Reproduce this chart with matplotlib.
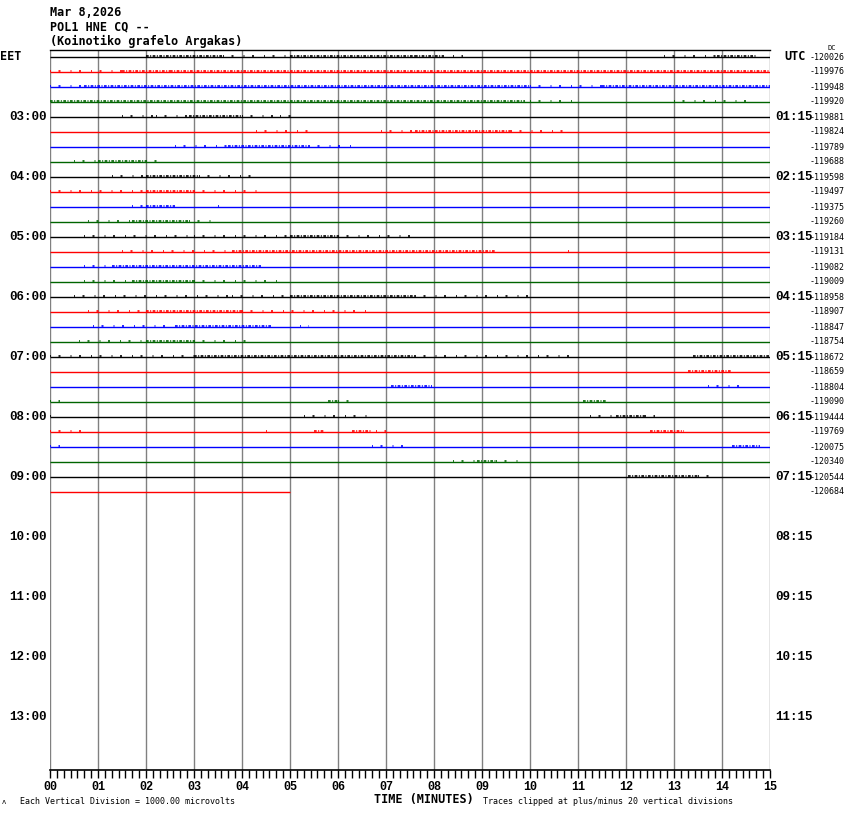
import matplotlib.pyplot as plt

colors = ['black', 'red', 'blue', '#006400']
row_dc = [-120026, -119976, -119948, -119920, -119881, -119824, -119789, -119688,
          -119598, -119497, -119375, -119260, -119184, -119131, -119082, -119009,
          -118958, -118907, -118847, -118754, -118672, -118659, -118804, -119090,
          -119444, -119769, -120075, -120340, -120544, -120684]
n_rows = 48
last_row_end = 5.0  # minutes recorded in the last (partial) line
eet_labels = ['03:00', '04:00', '05:00', '06:00', '07:00', '08:00',
              '09:00', '10:00', '11:00', '12:00', '13:00']
utc_labels = ['01:15', '02:15', '03:15', '04:15', '05:15', '06:15',
              '07:15', '08:15', '09:15', '10:15', '11:15']
minute_labels = ['00', '01', '02', '03', '04', '05', '06', '07',
                 '08', '09', '10', '11', '12', '13', '14', '15']

# noisy stretches per line: (start minute, end minute, level 1=sparse 2=dense)
activity = [
    [(2.0, 3.6, 2), (3.6, 5.0, 1), (5.0, 7.6, 2), (7.6, 8.2, 2), (8.4, 8.6, 1), (12.8, 13.9, 1), (13.9, 14.7, 2)],
    [(0.0, 1.5, 1), (1.5, 2.5, 2), (2.5, 15.0, 2)],
    [(0.0, 0.7, 1), (0.7, 10.0, 2), (10.0, 11.5, 1), (11.5, 15.0, 2)],
    [(0.0, 9.9, 2), (10.0, 11.0, 1), (13.0, 14.6, 1)],
    [(1.5, 2.2, 1), (2.2, 2.9, 1), (2.9, 4.0, 2), (4.0, 4.8, 1), (4.8, 5.2, 1)],
    [(4.3, 5.4, 1), (6.9, 7.6, 1), (7.6, 9.6, 2), (9.6, 10.8, 1)],
    [(2.6, 3.7, 1), (3.7, 5.4, 2), (5.4, 6.3, 1)],
    [(0.5, 1.0, 1), (1.0, 2.0, 2), (2.0, 2.3, 1)],
    [(1.3, 2.0, 1), (2.0, 3.1, 2), (3.1, 4.3, 1)],
    [(0.0, 2.0, 1), (2.0, 3.0, 2), (3.0, 4.4, 1)],
    [(1.7, 2.0, 1), (2.0, 2.6, 2), (3.5, 3.6, 1)],
    [(0.8, 1.7, 1), (1.7, 2.9, 2), (2.9, 3.4, 1)],
    [(0.7, 3.0, 1), (3.0, 5.0, 1), (5.0, 6.0, 2), (6.0, 7.6, 1)],
    [(1.5, 3.8, 1), (3.8, 9.3, 2), (10.8, 10.9, 1)],
    [(0.7, 1.3, 1), (1.3, 4.4, 2)],
    [(0.7, 1.7, 1), (1.7, 3.0, 2), (3.0, 4.8, 1)],
    [(0.5, 3.8, 1), (3.8, 5.0, 1), (5.0, 7.6, 2), (7.6, 10.0, 1)],
    [(0.8, 2.0, 1), (2.0, 4.0, 2), (4.0, 6.6, 1)],
    [(0.9, 2.6, 1), (2.6, 4.6, 2), (5.2, 5.4, 1)],
    [(0.6, 2.0, 1), (2.0, 3.0, 2), (3.0, 4.2, 1)],
    [(0.0, 3.0, 1), (3.0, 7.6, 2), (7.6, 10.9, 1), (13.4, 15.0, 2)],
    [(13.3, 14.2, 2)],
    [(7.1, 7.95, 2), (13.7, 14.4, 1)],
    [(0.0, 0.2, 1), (5.8, 6.0, 2), (6.0, 6.3, 1), (11.1, 11.6, 2)],
    [(0.0, 0.1, 1), (5.3, 6.7, 1), (11.25, 11.8, 1), (11.8, 12.4, 2), (12.4, 12.6, 1)],
    [(0.0, 0.8, 1), (4.5, 4.6, 1), (5.5, 5.7, 2), (6.3, 6.7, 2), (6.8, 7.0, 1), (12.5, 13.2, 2)],
    [(0.0, 0.2, 1), (6.7, 7.5, 1), (14.2, 14.8, 2)],
    [(8.4, 8.9, 1), (8.9, 9.3, 2), (9.3, 9.9, 1)],
    [(12.05, 13.5, 2), (13.5, 13.8, 1)],
    [],
]

W, H = 850, 814
fig = plt.figure(figsize=(W / 100, H / 100), dpi=100)
ax = fig.add_axes([50 / W, 1 - 770 / H, 720 / W, 720 / H])
ax.set_xlim(0, 15)
ax.set_ylim((770 - 57) / 15, (50 - 57) / 15)

mono = 'DejaVu Sans Mono'
serif_b = 'Liberation Mono'

# minute grid
for m in range(16):
    ax.axvline(m, color='#808080', lw=1.0, zorder=1)

# traces
for i, dc in enumerate(row_dc):
    c = colors[i % 4]
    end = last_row_end if i == len(row_dc) - 1 else 15
    ax.hlines(i, 0, end, color=c, lw=1.0, zorder=3)
    for (s, e, lev) in activity[i]:
        if lev == 2:
            ax.plot([s, e], [i - 0.06, i - 0.06], color=c, lw=1.2,
                    dashes=(1.6, 0.9, 0.6, 0.9), solid_capstyle='butt', zorder=3)
        else:
            ax.plot([s, e], [i - 0.06, i - 0.06], color=c, lw=1.2,
                    dashes=(0.6, 4.5, 1.2, 6.0), solid_capstyle='butt', zorder=3)
    ax.text(15.83, i, str(dc), fontsize=6, family=mono, va='center', ha='left',
            clip_on=False)

# hour labels
for k, (le, ri) in enumerate(zip(eet_labels, utc_labels)):
    r = 4 * (k + 1)
    ax.text(-0.06, r, le, fontsize=9, family=serif_b, weight='bold',
            ha='right', va='center', clip_on=False)
    ax.text(15.1, r, ri, fontsize=9, family=serif_b, weight='bold',
            ha='left', va='center', clip_on=False)
ax.text(-1.04, 0, 'EET', fontsize=8.5, family=mono, weight='bold',
        ha='left', va='center', clip_on=False)
ax.text(15.3, 0, 'UTC', fontsize=8.5, family=mono, weight='bold',
        ha='left', va='center', clip_on=False)
ax.text(16.2, -0.62, 'DC', fontsize=5, family=mono,
        ha='left', va='center', clip_on=False)

# frame and axis
for side in ['left', 'right']:
    ax.spines[side].set_visible(False)
ax.spines['top'].set_color('black')
ax.spines['top'].set_linewidth(1.0)
ax.spines['bottom'].set_linewidth(1.2)
ax.set_yticks([])
ax.set_xticks(range(16))
ax.set_xticklabels(minute_labels, fontsize=8.5, family=serif_b, weight='bold')
ax.set_xticks([m / 7 for m in range(15 * 7 + 1)], minor=True)
ax.tick_params(axis='x', which='both', direction='out', length=6, width=1.0,
               pad=2)

# header and footer text
fig.text(50 / W, 1 - 12 / H, 'Mar 8,2026', fontsize=8.5, family=mono,
         weight='bold', va='center')
fig.text(50 / W, 1 - 27 / H, 'POL1 HNE CQ --', fontsize=8.5, family=mono,
         weight='bold', va='center')
fig.text(50 / W, 1 - 41 / H, '(Koinotiko grafelo Argakas)', fontsize=8.5,
         family=mono, weight='bold', va='center')
fig.text(374 / W, 1 - 799 / H, 'TIME (MINUTES)', fontsize=8.5, family=mono,
         weight='bold', va='center')
fig.text(20 / W, 1 - 801 / H, 'Each Vertical Division = 1000.00 microvolts',
         fontsize=6, family=mono, va='center')
fig.text(483 / W, 1 - 801 / H, 'Traces clipped at plus/minus 20 vertical divisions',
         fontsize=6, family=mono, va='center')
fig.text(2 / W, 1 - 802 / H, '\u028c', fontsize=5, family=mono, va='center')

fig.savefig('out.png', dpi=100)
